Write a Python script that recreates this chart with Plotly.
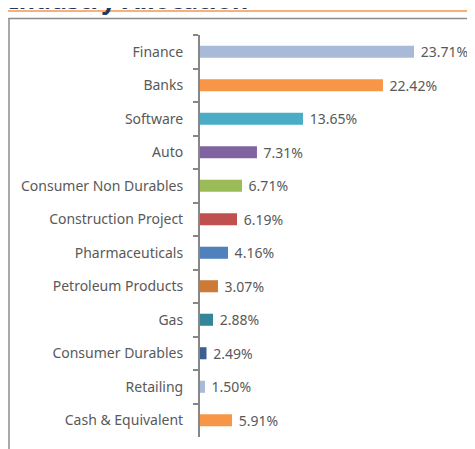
import plotly.graph_objects as go

categories = ["Finance", "Banks", "Software", "Auto", "Consumer Non Durables",
              "Construction Project", "Pharmaceuticals", "Petroleum Products",
              "Gas", "Consumer Durables", "Retailing", "Cash & Equivalent"]
# percentages shown in the data labels
label_values = [23.71, 22.42, 13.65, 7.31, 6.71, 6.19, 4.16, 3.07, 2.88, 2.49, 1.50, 5.91]
# bar lengths as drawn in the picture (same % scale as the Finance bar)
bar_lengths = [23.71, 20.27, 11.41, 6.31, 4.65, 4.10, 3.10, 1.99, 1.44, 0.72, 0.55, 3.55]
colors = ["#a9b9d8", "#f79646", "#4bacc6", "#8064a2", "#9bbb59", "#c0504d",
          "#4f81bd", "#cc7a36", "#31869b", "#3b5f91", "#a9b9d8", "#f79646"]

labels = ["\u00a0" + f"{v:.2f}%" for v in label_values]

# page body has an 8px margin; layout is computed in window pixels
OFF = 8
W, H = 475, 449
L_win, R_win, T_win, B_win = 200, 475, 35, 437
L = L_win - OFF
T = T_win - OFF
pw = R_win - L_win
ph = B_win - T_win
R = W - L - pw
B = H - T - ph

def px(p):
    return (p - L_win) / pw

def py(p):
    return (B_win - p) / ph

fig = go.Figure(go.Bar(
    x=bar_lengths, y=categories, orientation="h",
    marker=dict(color=colors, line=dict(width=0)),
    text=labels, textposition="outside", cliponaxis=False, constraintext="none",
    textfont=dict(family="Noto Sans", size=14, color="#595959"),
    hoverinfo="skip",
))

fig.update_layout(
    width=W, height=H,
    margin=dict(l=L, r=R, t=T, b=B, pad=0),
    paper_bgcolor="white", plot_bgcolor="white",
    showlegend=False, bargap=0.64,
    font=dict(family="Noto Sans", size=14, color="#595959"),
    xaxis=dict(range=[0, pw / 9.026], visible=False, fixedrange=True),
    yaxis=dict(autorange="reversed", type="category", tickson="boundaries",
               ticks="outside", ticklen=5, tickwidth=2, tickcolor="#878787",
               showline=True, linewidth=2, linecolor="#878787",
               showgrid=False, ticklabelstandoff=12,
               tickfont=dict(family="Noto Sans", size=14, color="#595959")),
    shapes=[
        dict(type="line", xref="paper", yref="paper", x0=px(8), x1=px(490),
             y0=py(11), y1=py(11), line=dict(color="#f79646", width=1.5)),
        dict(type="line", xref="paper", yref="paper", x0=px(8.5), x1=px(490),
             y0=py(18.5), y1=py(18.5), line=dict(color="#8c8c8c", width=1.5)),
        dict(type="line", xref="paper", yref="paper", x0=px(9), x1=px(9),
             y0=py(18), y1=py(480), line=dict(color="#8c8c8c", width=1.5)),
    ],
    annotations=[
        dict(text="<b>Industry Allocation</b>", xref="paper", yref="paper",
             x=px(7), y=py(18.5), xanchor="left", yanchor="bottom",
             showarrow=False, font=dict(family="Noto Sans", size=25, color="#1f3864")),
    ],
)

fig.write_html("out.html")
